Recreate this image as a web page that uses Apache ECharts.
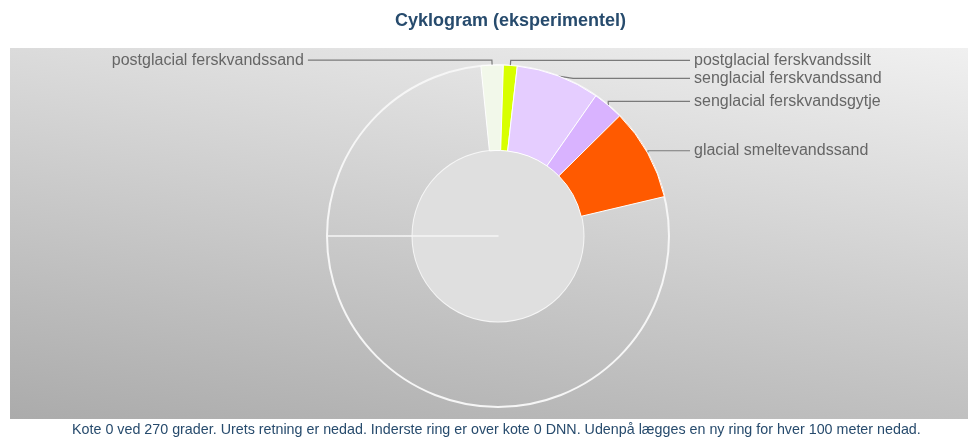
<!DOCTYPE html>
<html>
<head>
<meta charset="utf-8">
<script src="https://cdn.jsdelivr.net/npm/echarts@6/dist/echarts.min.js"></script>
<style>
html,body{margin:0;padding:0;background:#fff;}
#chart{width:974px;height:437px;}
</style>
</head>
<body>
<div id="chart"></div>
<script>
// ---- data (kote in metres DNN) ----
const layerNames = [
  'postglacial ferskvandssand',
  'postglacial ferskvandssilt',
  'senglacial ferskvandssand',
  'senglacial ferskvandsgytje',
  'glacial smeltevandssand'
];
const layerTop    = [-23.4, -25.5, -26.8, -34.7, -37.6];
const layerBottom = [-25.5, -26.8, -34.7, -37.6, -46.3];
const ringDepth = 100;   // metres per ring
const titleText = 'Cyklogram (eksperimentel)';
const footerText = 'Kote 0 ved 270 grader. Urets retning er nedad. Inderste ring er over kote 0 DNN. Udenpå lægges en ny ring for hver 100 meter nedad.';

// ---- styles ----
const layerColors = ['#f2f8ea', '#d8ff00', '#e5cdff', '#d9b3ff', '#ff5a00'];
const labelLen2 = [184, 38, 38, 38, 38];

// build pie data: empty filler slices between layers so the total is one ring
const pieData = [];
let cursor = 0;
layerNames.forEach((name, i) => {
  const top = -layerTop[i], bot = -layerBottom[i];
  if (top > cursor) {
    pieData.push({ value: top - cursor, name: 'gap' + i, itemStyle: { color: 'rgba(0,0,0,0)', borderWidth: 0 },
      label: { show: false }, labelLine: { show: false } });
  }
  pieData.push({ value: bot - top, name: name, itemStyle: { color: layerColors[i] },
    labelLine: { length: 5, length2: labelLen2[i] } });
  cursor = bot;
});
if (cursor < ringDepth) {
  pieData.push({ value: ringDepth - cursor, name: 'rest', itemStyle: { color: 'rgba(0,0,0,0)', borderWidth: 0 },
    label: { show: false }, labelLine: { show: false } });
}

const chart = echarts.init(document.getElementById('chart'), null, { renderer: 'canvas' });
const center = [498, 236];
const outerR = 171;
const rightLabelX = 694;

chart.setOption({
  animation: false,
  backgroundColor: '#ffffff',
  title: [
    { text: titleText, left: 390, top: 7,
      textStyle: { fontFamily: 'Liberation Sans, Arial, sans-serif', fontSize: 18, fontWeight: 'bold', color: '#274b6d' } },
    { text: footerText, left: 72, top: 423, padding: 0,
      textStyle: { fontFamily: 'Liberation Sans, Arial, sans-serif', fontSize: 14.3, fontWeight: 'normal', color: '#274b6d' } }
  ],
  graphic: [
    { type: 'rect', left: 10, top: 48, z: -10, silent: true,
      shape: { width: 958, height: 371 },
      style: { fill: new echarts.graphic.LinearGradient(523, -74, 435, 445, [
        { offset: 0, color: '#f0f0f0' }, { offset: 1, color: '#ababab' }], true) } }
  ],
  polar: { center: center, radius: outerR },
  angleAxis: { type: 'value', min: 0, max: ringDepth, startAngle: 180, clockwise: true, show: false },
  radiusAxis: {
    type: 'value', min: 0, max: 2, interval: 1,
    axisLine: { show: true, lineStyle: { color: '#f6f6f6', width: 1.5 } },
    axisTick: { show: false }, axisLabel: { show: false },
    splitLine: { show: true, lineStyle: { color: '#f6f6f6', width: 2 } },
    splitArea: { show: true, areaStyle: { color: ['#dfdfdf', 'rgba(0,0,0,0)'] } }
  },
  series: [{
    type: 'pie',
    center: center,
    radius: [outerR / 2, outerR],
    startAngle: 180,
    clockwise: true,
    sort: null,
    silent: true,
    emphasis: { disabled: true },
    itemStyle: { borderColor: '#ffffff', borderWidth: 1 },
    label: {
      show: true, position: 'outside', bleedMargin: 5,
      distanceToLabelLine: 4,
      fontFamily: 'Liberation Sans, Arial, sans-serif', fontSize: 16, color: '#666666'
    },
    labelLine: { show: true, length: 5, length2: 38, lineStyle: { color: '#7a7a7a', width: 1.2 } },
    labelLayout: function (params) {
      const pts = params.labelLinePoints;
      if (!pts) return {};
      if (pts[2][0] > pts[0][0]) {
        return {
          x: rightLabelX, align: 'left',
          labelLinePoints: [pts[0], pts[1], [rightLabelX - 4, pts[2][1]]]
        };
      }
      return {};
    },
    data: pieData
  }]
});
</script>
</body>
</html>
